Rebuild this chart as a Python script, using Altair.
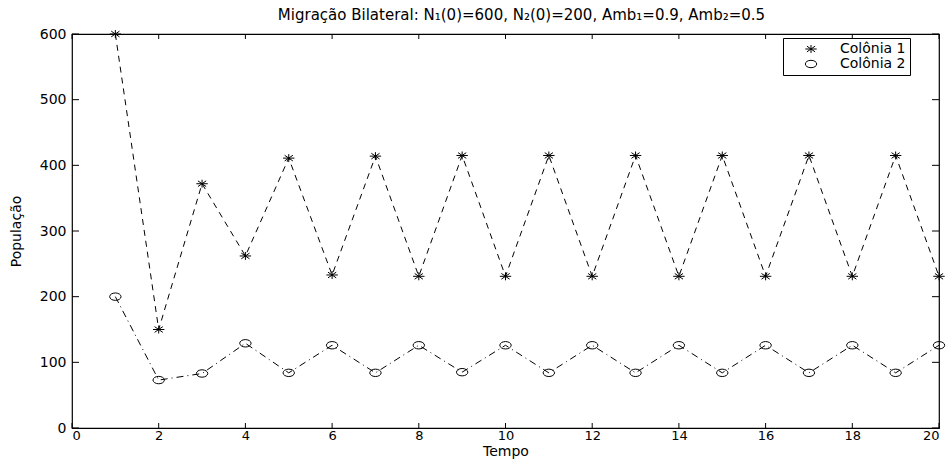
import altair as alt
import pandas as pd

tempo = list(range(1, 21))
colonia1 = [600, 150, 372, 262, 411, 233, 414, 231, 415, 231,
            415, 231, 415, 231, 415, 231, 415, 231, 415, 231]
colonia2 = [200, 73, 83, 129, 84, 126, 84, 126, 85, 126,
            84, 126, 84, 126, 84, 126, 84, 126, 84, 126]
series_names = ["Colônia 1", "Colônia 2"]
x_ticks = list(range(0, 21, 2))
y_ticks = list(range(0, 601, 100))

W, H = 867, 394
FONT = "DejaVu Sans"

df = pd.DataFrame({
    "t": tempo * 2,
    "pop": colonia1 + colonia2,
    "serie": [series_names[0]] * 20 + [series_names[1]] * 20,
})
df1 = pd.DataFrame({"t": tempo, "pop": colonia1})
df2 = pd.DataFrame({"t": tempo, "pop": colonia2})
xt = pd.DataFrame({"t": x_ticks})
yt = pd.DataFrame({"pop": y_ticks})

star = "M-1,0L1,0M0,-0.7L0,0.7M-0.72,-0.5L0.72,0.5M-0.72,0.5L0.72,-0.5"
ellipse = "M-1,0A1,0.65 0 1,0 1,0A1,0.65 0 1,0 -1,0Z"

xscale = alt.Scale(domain=[0, 20], nice=False, zero=False)
yscale = alt.Scale(domain=[0, 600], nice=False, zero=False)

xaxis = alt.Axis(values=x_ticks, title="Tempo", domain=False, ticks=False, grid=False,
                 labelPadding=1, labelFont=FONT, labelFontSize=13, labelColor="black",
                 titleFont=FONT, titleFontSize=14, titleFontWeight="normal", titleColor="black",
                 titleX=W / 2, titleY=23, titleBaseline="middle")
yaxis = alt.Axis(values=y_ticks, title="População", domain=False, ticks=False, grid=False,
                 labelPadding=6, labelFont=FONT, labelFontSize=14, labelColor="black",
                 titleFont=FONT, titleFontSize=14, titleFontWeight="normal", titleColor="black",
                 titleX=-56, titleY=H / 2, titleAngle=-90, titleBaseline="middle")

line1 = alt.Chart(df1).mark_line(color="black", strokeWidth=1, strokeDash=[6, 5]).encode(
    x=alt.X("t:Q", scale=xscale, axis=xaxis),
    y=alt.Y("pop:Q", scale=yscale, axis=yaxis),
)
line2 = alt.Chart(df2).mark_line(color="black", strokeWidth=1, strokeDash=[7, 4, 1, 4]).encode(
    x=alt.X("t:Q", scale=xscale),
    y=alt.Y("pop:Q", scale=yscale),
)

points = alt.Chart(df).mark_point(filled=False, stroke="black", strokeWidth=1, size=130,
                                  opacity=1).encode(
    x=alt.X("t:Q", scale=xscale),
    y=alt.Y("pop:Q", scale=yscale),
    shape=alt.Shape("serie:N", scale=alt.Scale(domain=series_names, range=[star, ellipse]),
                    legend=alt.Legend(title=None, orient="none", legendX=711, legendY=4,
                                      fillColor="white", strokeColor="black", padding=4,
                                      symbolStrokeColor="black", symbolStrokeWidth=1,
                                      symbolFillColor="white", symbolSize=130,
                                      symbolOffset=17, labelOffset=22,
                                      labelFont=FONT, labelFontSize=14, labelColor="black",
                                      rowPadding=1)),
)

tick_bottom = alt.Chart(xt).mark_rule(color="black", strokeWidth=1).encode(
    x=alt.X("t:Q", scale=xscale), y=alt.value(H), y2=alt.value(H - 5))
tick_top = alt.Chart(xt).mark_rule(color="black", strokeWidth=1).encode(
    x=alt.X("t:Q", scale=xscale), y=alt.value(0), y2=alt.value(5))
tick_left = alt.Chart(yt).mark_rule(color="black", strokeWidth=1).encode(
    y=alt.Y("pop:Q", scale=yscale), x=alt.value(0), x2=alt.value(7))
tick_right = alt.Chart(yt).mark_rule(color="black", strokeWidth=1).encode(
    y=alt.Y("pop:Q", scale=yscale), x=alt.value(W), x2=alt.value(W - 7))

chart = alt.layer(tick_bottom, tick_top, tick_left, tick_right, line1, line2, points).properties(
    width=W, height=H,
    title=alt.TitleParams(
        "Migração Bilateral: N₁(0)=600, N₂(0)=200, Amb₁=0.9, Amb₂=0.5",
        font=FONT, fontSize=15, fontWeight="normal", color="black",
        anchor="middle", frame="group", baseline="alphabetic", offset=8, dx=16, dy=16),
    autosize=alt.AutoSizeParams(type="none"),
    padding={"left": 72, "top": 34, "right": 11, "bottom": 31},
    background="white",
).configure_view(stroke="black", strokeWidth=1.2)

chart.save("out.html", embed_options={"renderer": "svg", "actions": False})
